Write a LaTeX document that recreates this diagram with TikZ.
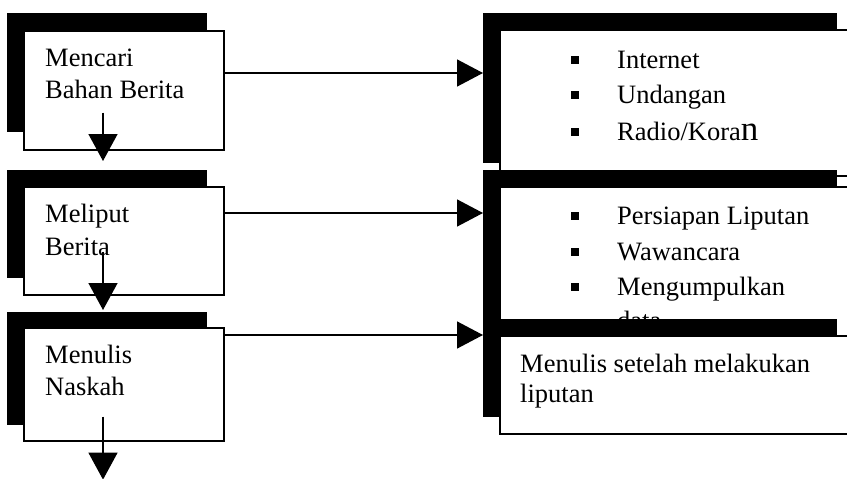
\documentclass[tikz,border=0pt]{standalone}
\usepackage{fontspec}
\setmainfont{Liberation Serif}
\usetikzlibrary{arrows.meta}

\tikzset{
  shadebox/.style={fill=black, draw=none, anchor=north west, inner sep=0pt},
  mainbox/.style={fill=white, draw=black, line width=1.6pt, anchor=north west, inner sep=0pt},
  leftbox/.style={minimum width=200pt},
  rightbox/.style={minimum width=354pt},
  txt/.style={anchor=base west, inner sep=0pt, font=\fontsize{26.5}{34}\selectfont},
  bul/.style={fill=black, minimum size=8pt, inner sep=0pt},
  harr/.style={line width=1.5pt, -{Triangle[length=26pt,width=27pt]}},
  varr/.style={line width=1.5pt, -{Triangle[length=27pt,width=29pt]}}
}
\newcommand{\bign}{{\fontsize{35}{35}\selectfont n}}

\begin{document}
\begin{tikzpicture}[x=1pt, y=-1pt]
\useasboundingbox (0,0) rectangle (847,479);
\clip (0,0) rectangle (847,479);

% kolom kiri
\node [shadebox, leftbox, minimum height=119pt] (m1s) at (7,13) {};
\node [mainbox, leftbox, minimum height=119pt] (m1) at (23,30) {};
\node [txt] (m1a) at ([shift={(22,36)}]m1.north west) {Mencari};
\node [txt] (m1b) at ([shift={(22,68)}]m1.north west) {Bahan Berita};

\node [shadebox, leftbox, minimum height=108pt] (m2s) at (7,170) {};
\node [mainbox, leftbox, minimum height=108pt] (m2) at (23,186) {};
\node [txt] (m2a) at ([shift={(22,36)}]m2.north west) {Meliput};
\node [txt] (m2b) at ([shift={(22,69)}]m2.north west) {Berita};

\node [shadebox, leftbox, minimum height=113pt] (m3s) at (7,312) {};
\node [mainbox, leftbox, minimum height=113pt] (m3) at (23,327) {};
\node [txt] (m3a) at ([shift={(22,36)}]m3.north west) {Menulis};
\node [txt] (m3b) at ([shift={(22,68)}]m3.north west) {Naskah};

% kolom kanan
\node [shadebox, rightbox, minimum height=150pt] (r1s) at (483,13) {};
\node [mainbox, rightbox, minimum height=146pt] (r1) at (499,29) {};
\foreach \t/\dy [count=\i] in {Internet/39, Undangan/74, {Radio/Kora\bign}/111} {
  \node [bul] (r1b\i) at ([shift={(76,\dy-8)}]r1.north west) {};
  \node [txt] (r1t\i) at ([shift={(118,\dy)}]r1.north west) {\t};
}

\node [shadebox, rightbox, minimum height=167pt] (r2s) at (483,170) {};
\node [mainbox, rightbox, minimum height=167pt] (r2) at (499,186) {};
\foreach \t/\dy [count=\i] in {Persiapan Liputan/38, Wawancara/74, Mengumpulkan/109} {
  \node [bul] (r2b\i) at ([shift={(76,\dy-8)}]r2.north west) {};
  \node [txt] (r2t\i) at ([shift={(118,\dy)}]r2.north west) {\t};
}
\node [txt] (r2t4) at ([shift={(118,143)}]r2.north west) {data};

\node [shadebox, rightbox, minimum height=98pt] (r3s) at (483,319) {};
\node [mainbox, rightbox, minimum height=98pt] (r3) at (499,335) {};
\node [txt] (r3a) at ([shift={(21,37)}]r3.north west) {Menulis setelah melakukan};
\node [txt] (r3b) at ([shift={(21,67)}]r3.north west) {liputan};

% panah mendatar
\coordinate (h1) at ([shift={(0,43)}]m1.north east);
\coordinate (h2) at ([shift={(0,27)}]m2.north east);
\coordinate (h3) at ([shift={(0,8)}]m3.north east);
\draw [harr] (h1) -- (h1 -| r1s.west);
\draw [harr] (h2) -- (h2 -| r2s.west);
\draw [harr] (h3) -- (h3 -| r3s.west);

% panah ke bawah
\coordinate (v1) at ([shift={(80,-38)}]m1.south west);
\coordinate (v1e) at ([yshift=9pt]m2s.north);
\coordinate (v2) at ([shift={(80,-44)}]m2.south west);
\coordinate (v2e) at ([yshift=2pt]m3s.north);
\coordinate (v3) at ([shift={(80,-25)}]m3.south west);
\coordinate (v3e) at ([yshift=-38pt]m3.south);
\draw [varr] (v1) -- (v1 |- v1e);
\draw [varr] (v2) -- (v2 |- v2e);
\draw [varr] (v3) -- (v3 |- v3e);
\end{tikzpicture}
\end{document}
